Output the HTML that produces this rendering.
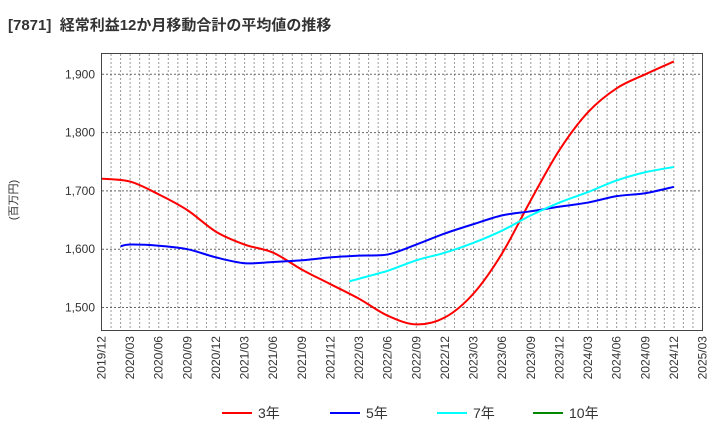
<!DOCTYPE html>
<html><head><meta charset="utf-8"><style>
body{margin:0;background:#fff;font-family:"Liberation Sans","Noto Sans CJK JP",sans-serif}
svg text{font-family:"Liberation Sans","Noto Sans CJK JP",sans-serif}
</style></head><body>
<svg width="720" height="440">
<text x="8" y="30" font-size="15" font-weight="bold" fill="#333">[7871]&#160;&#160;経常利益12か月移動合計の平均値の推移</text>
<text transform="translate(17,200) rotate(-90)" font-size="11" fill="#333" text-anchor="middle">(百万円)</text>
<g id="grid"></g><g id="axes"></g><g id="series"></g>
<rect x="101.5" y="53.5" width="601" height="277" fill="none" stroke="#444"/>
<g id="legend"></g>
</svg>
<script>
const yTicks=[1500,1600,1700,1800,1900];
const yTickLabels=["1,500","1,600","1,700","1,800","1,900"];
const xLabels=["2019/12","2020/03","2020/06","2020/09","2020/12","2021/03","2021/06","2021/09","2021/12","2022/03","2022/06","2022/09","2022/12","2023/03","2023/06","2023/09","2023/12","2024/03","2024/06","2024/09","2024/12","2025/03"];
const redMonths=[0,3,6,9,12,15,18,21,24,27,30,33,36,39,42,45,48,51,54,57,60];
const redValues=[1721,1716,1694,1667,1630,1608,1594,1565,1540,1515,1486,1471,1483,1524,1593,1684,1770,1835,1876,1900,1922];
const blueMonths=[2,3,6,9,12,15,18,21,24,27,30,33,36,39,42,45,48,51,54,57,60];
const blueValues=[1605,1608,1606,1600,1586,1576,1578,1581,1586,1589,1591,1608,1627,1643,1658,1665,1673,1680,1691,1696,1707];
const cyanMonths=[26,30,33,36,39,42,45,48,51,54,57,60];
const cyanValues=[1545,1563,1581,1594,1611,1632,1658,1680,1698,1718,1732,1741];
const NS="http://www.w3.org/2000/svg";
const X=m=>101.5+m*(601/63);
const Y=v=>74.3+(1900-v)*0.583;
function mk(t,a,p){const e=document.createElementNS(NS,t);for(const k in a)e.setAttribute(k,a[k]);p.appendChild(e);return e;}
const grid=document.getElementById('grid'),axes=document.getElementById('axes'),ser=document.getElementById('series'),leg=document.getElementById('legend');
for(let m=1;m<63;m++){const l=mk('line',{x1:X(m),x2:X(m),y1:54,y2:330,stroke:'#999','stroke-dasharray':'2,2','stroke-width':1},grid);

}
yTicks.forEach((v,i)=>{const l=mk('line',{x1:102,x2:702,y1:Y(v),y2:Y(v),stroke:'#666','stroke-dasharray':'2,2'},grid);


const t=mk('text',{x:95,y:Y(v)+4,'font-size':12,fill:'#333','text-anchor':'end'},axes);t.textContent=yTickLabels[i];

});
xLabels.forEach((s,i)=>{const x=X(i*3);const t=mk('text',{transform:`translate(${x+4},336) rotate(-90)`,'font-size':12,fill:'#333','text-anchor':'end'},axes);t.textContent=s;

});
function path(ms,vs){const p=ms.map((m,i)=>[X(m),Y(vs[i])]);let d=`M${p[0][0]},${p[0][1]}`;
for(let i=0;i<p.length-1;i++){const p0=p[i-1]||p[i],p1=p[i],p2=p[i+1],p3=p[i+2]||p2;
d+=`C${p1[0]+(p2[0]-p0[0])/6},${p1[1]+(p2[1]-p0[1])/6} ${p2[0]-(p3[0]-p1[0])/6},${p2[1]-(p3[1]-p1[1])/6} ${p2[0]},${p2[1]}`;}return d;}
[[redMonths,redValues,'#f00','series-3y'],[blueMonths,blueValues,'#00f','series-5y'],[cyanMonths,cyanValues,'#0ff','series-7y']].forEach(([m,v,c,n])=>{
const e=mk('path',{d:path(m,v),fill:'none',stroke:c,'stroke-width':2},ser);

});
[['3年','#f00',222],['5年','#00f',330],['7年','#0ff',437],['10年','#080',533]].forEach(([s,c,x])=>{
const g=mk('g',{},leg);


mk('line',{x1:x,x2:x+30,y1:413,y2:413,stroke:c,'stroke-width':2},g);
const t=mk('text',{x:x+36,y:418,'font-size':14,fill:'#333'},g);t.textContent=s;});
</script>
</body></html>
